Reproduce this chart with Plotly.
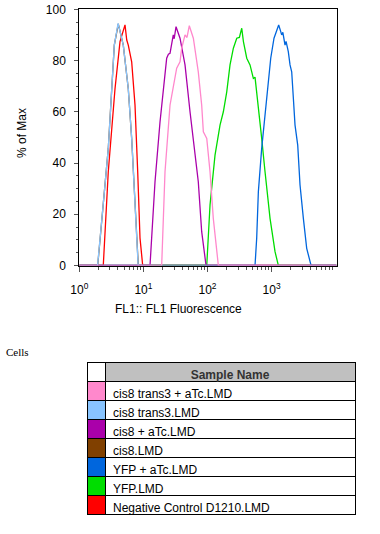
import numpy as np
import plotly.graph_objects as go

# ---- data: log10(FL1 fluorescence) and % of max ----
red_log = [0.0, 0.374, 0.452, 0.557, 0.635, 0.69, 0.713, 0.74, 0.764, 0.817, 0.869, 0.911, 0.947, 0.989, 4.01]
red_pct = [0, 0, 36.6, 69, 87.4, 91.5, 93.9, 88, 86, 79.5, 62.6, 36.6, 10.7, 0, 0]

green_log = [0.0, 1.988, 2.039, 2.117, 2.195, 2.247, 2.3, 2.351, 2.403, 2.456, 2.497, 2.534, 2.56, 2.612, 2.663, 2.715, 2.741, 2.793, 2.845, 2.897, 2.975, 3.053, 3.105, 4.01]
green_pct = [0, 0, 23.6, 43.1, 54.8, 60, 67.8, 78.3, 84.8, 88.7, 89, 92.6, 87.4, 80.9, 78.3, 73, 73.5, 62.6, 49.6, 36.6, 18.4, 5.4, 0, 0]

blue_log = [0.0, 2.741, 2.767, 2.793, 2.845, 2.897, 2.949, 2.986, 3.037, 3.068, 3.11, 3.14, 3.157, 3.175, 3.209, 3.225, 3.26, 3.287, 3.313, 3.339, 3.365, 3.407, 3.443, 3.495, 3.547, 3.615, 4.01]
blue_pct = [0, 0, 10.6, 28.8, 45.7, 58.7, 71.7, 80.9, 88.7, 91, 93.9, 91.5, 90, 91, 86, 87.5, 83.5, 78.3, 75.6, 65.3, 54.8, 47, 31.4, 18.4, 6.7, 0, 0]

brown_log = [0.0, 0.287, 0.37, 0.452, 0.546, 0.608, 0.686, 0.764, 0.817, 0.869, 0.911, 0.92, 4.01]
brown_pct = [0, 0, 23, 45.7, 86, 94.3, 86, 69, 49.6, 23.6, 2, 0, 0]

purple_log = [0.0, 1.103, 1.181, 1.259, 1.363, 1.39, 1.415, 1.466, 1.48, 1.509, 1.571, 1.649, 1.727, 1.779, 1.856, 1.909, 1.961, 1.977, 4.01]
purple_pct = [0, 0, 32.7, 56, 80.9, 82.5, 82.8, 90, 88.5, 93.2, 88.7, 78.3, 60, 49.6, 32.7, 13.2, 1.5, 0, 0]

lightblue_log = [0.0, 0.285, 0.37, 0.452, 0.546, 0.605, 0.686, 0.764, 0.817, 0.869, 0.911, 0.918, 4.01]
lightblue_pct = [0, 0, 23, 45.7, 86, 94.5, 86, 69, 49.6, 23.6, 2, 0, 0]

pink_log = [0.0, 1.285, 1.337, 1.415, 1.519, 1.571, 1.597, 1.649, 1.68, 1.716, 1.779, 1.856, 1.909, 1.935, 1.988, 2.039, 2.09, 2.143, 2.169, 4.01]
pink_pct = [0, 0, 36.6, 62.6, 77, 79.5, 84.8, 90, 89, 93.6, 88.7, 75.6, 62.6, 52.2, 49.6, 36.6, 18.4, 5.4, 0, 0]

sample_names = ["cis8 trans3 + aTc.LMD", "cis8 trans3.LMD", "cis8 + aTc.LMD", "cis8.LMD",
                "YFP + aTc.LMD", "YFP.LMD", "Negative Control D1210.LMD"]
sample_colors = ["#ff88cc", "#88c4ff", "#aa00aa", "#804000", "#0066dd", "#00dd00", "#ff0000"]

x_tick_vals = [1, 10, 100, 1000]
x_tick_text = ["10<sup>0</sup>", "10<sup>1</sup>", "10<sup>2</sup>", "10<sup>3</sup>"]
x_minor_vals = [m * d for d in (1, 10, 100, 1000) for m in range(2, 10)]
y_tick_vals = [0, 20, 40, 60, 80, 100]

series = {
    "Negative Control D1210.LMD": (red_log, red_pct),
    "YFP.LMD": (green_log, green_pct),
    "YFP + aTc.LMD": (blue_log, blue_pct),
    "cis8.LMD": (brown_log, brown_pct),
    "cis8 + aTc.LMD": (purple_log, purple_pct),
    "cis8 trans3.LMD": (lightblue_log, lightblue_pct),
    "cis8 trans3 + aTc.LMD": (pink_log, pink_pct),
}
color_of = dict(zip(sample_names, sample_colors))

W, H = 380, 534
fig = go.Figure()
for name, (lx, py) in series.items():
    fig.add_trace(go.Scatter(
        x=10 ** np.array(lx), y=py, mode="lines", name=name,
        line=dict(color=color_of[name], width=1.3), showlegend=False,
        xaxis="x", yaxis="y",
    ))

fig.add_trace(go.Table(
    domain=dict(x=[87 / W, 355 / W], y=[1 - 520 / H, 1 - 362 / H]),
    columnwidth=[18, 250],
    header=dict(
        values=[" ", "Sample Name"],
        fill=dict(color=["white", "#c0c0c0"]),
        line=dict(color="black", width=1),
        align=["center", "center"],
        font=dict(family="Liberation Sans, Arial", size=12, color="#333333", weight="bold"),
        height=19,
    ),
    cells=dict(
        values=[[" "] * len(sample_names), sample_names],
        fill=dict(color=[sample_colors, ["white"] * len(sample_names)]),
        line=dict(color="black", width=1),
        align=["left", "left"],
        font=dict(family="Liberation Sans, Arial", size=12, color="black"),
        height=19,
    ),
))

axis_font = dict(family="Liberation Sans, Arial", size=12, color="black")
fig.update_layout(
    template="none",
    width=W, height=H,
    margin=dict(l=0, r=0, t=0, b=0),
    paper_bgcolor="white", plot_bgcolor="white",
    xaxis=dict(
        type="log", range=[0, 4.015], domain=[79.3 / W, 336.7 / W],
        tickvals=x_tick_vals, ticktext=x_tick_text,
        ticks="outside", ticklen=5, tickcolor="#555555",
        minor=dict(tickvals=x_minor_vals, ticks="outside", ticklen=3, tickcolor="#555555"),
        showline=True, linecolor="black", linewidth=1, mirror=True,
        showgrid=False, zeroline=False, automargin=False,
        tickfont=axis_font, ticklabelstandoff=8,
    ),
    yaxis=dict(
        range=[0, 100], domain=[1 - 265.5 / H, 1 - 9.3 / H],
        tickvals=y_tick_vals, ticks="outside", ticklen=4, tickcolor="#555555",
        minor=dict(dtick=5, ticks="outside", ticklen=2, tickcolor="#555555"),
        showline=True, linecolor="black", linewidth=1, mirror=True,
        showgrid=False, zeroline=False, automargin=False,
        tickfont=axis_font, ticklabelstandoff=6,
    ),
    annotations=[
        dict(text="% of Max", xref="paper", yref="paper", x=22 / W, y=1 - 133 / H,
             textangle=-90, showarrow=False, font=axis_font, xanchor="center", yanchor="middle"),
        dict(text="FL1:: FL1 Fluorescence", xref="paper", yref="paper", x=178 / W, y=1 - 309 / H,
             showarrow=False, font=axis_font, xanchor="center", yanchor="middle"),
        dict(text="Cells", xref="paper", yref="paper", x=4 / W, y=1 - 352 / H,
             showarrow=False, font=dict(family="Liberation Serif, Times New Roman", size=11, color="black"),
             xanchor="left", yanchor="middle"),
    ],
)

fig.write_html(
    "out.html",
    config={"displayModeBar": False},
    post_script="document.body.style.margin='0px';document.body.style.overflow='hidden';",
)
